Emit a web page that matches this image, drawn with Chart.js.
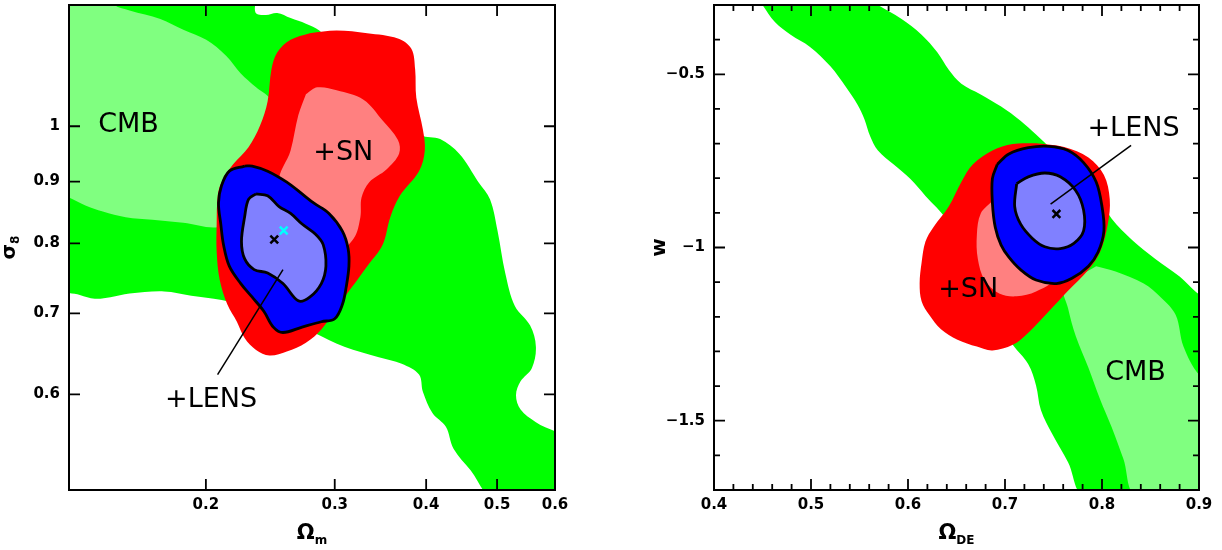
<!DOCTYPE html>
<html>
<head>
<meta charset="utf-8">
<script src="https://cdn.jsdelivr.net/npm/chart.js@4"></script>
<style>
  html, body { margin: 0; padding: 0; background: #fff; overflow: hidden; }
  #wrap { position: relative; width: 1222px; height: 550px; overflow: hidden; }
  #left { position: absolute; left: 0; top: -3px; }
  #right { position: absolute; left: 600px; top: -3px; }
</style>
</head>
<body>
<div id="wrap">
  <canvas id="left" width="600" height="553"></canvas>
  <canvas id="right" width="622" height="553"></canvas>
</div>
<script>
// ---- left panel: Omega_m vs sigma_8 (log axes) ----
const xTicksL = [0.2, 0.3, 0.4, 0.5, 0.6];
const xLabelsL = ['0.2', '0.3', '0.4', '0.5', '0.6'];
const yTicksL = [0.6, 0.7, 0.8, 0.9, 1];
const yLabelsL = ['0.6', '0.7', '0.8', '0.9', '1'];

// contours as [Omega_m, sigma_8]
const cmb95L = [[0.125,1.30],[0.2328,1.30],[0.2337,1.243],[0.2414,1.236],[0.2503,1.241],[0.2611,1.229],[0.274,1.216],[0.2858,1.200],[0.3092,1.144],[0.3488,1.056],[0.3935,0.984],[0.418,0.976],[0.4439,0.949],[0.4716,0.899],[0.489,0.870],[0.5008,0.819],[0.513,0.756],[0.5288,0.710],[0.5549,0.684],[0.565,0.657],[0.558,0.631],[0.5384,0.615],[0.5307,0.599],[0.5384,0.583],[0.565,0.569],[0.62,0.549],[0.62,0.49],[0.497,0.49],[0.4603,0.519],[0.436,0.541],[0.4256,0.564],[0.408,0.579],[0.3959,0.603],[0.3911,0.623],[0.3704,0.636],[0.3446,0.644],[0.3092,0.657],[0.2807,0.675],[0.2429,0.703],[0.2101,0.718],[0.191,0.724],[0.1754,0.730],[0.1573,0.727],[0.1481,0.722],[0.141,0.720],[0.1345,0.725],[0.125,0.738]];
const cmb68L = [[0.125,1.30],[0.142,1.30],[0.1499,1.26],[0.1573,1.247],[0.1733,1.227],[0.1863,1.202],[0.2002,1.179],[0.2131,1.144],[0.2232,1.106],[0.2342,1.077],[0.2458,1.049],[0.2488,0.974],[0.2371,0.911],[0.2153,0.841],[0.2076,0.825],[0.1863,0.832],[0.169,0.837],[0.1554,0.841],[0.1446,0.850],[0.1369,0.860],[0.13,0.873],[0.125,0.88]];
const sn95L = [[0.2773,1.194],[0.3018,1.200],[0.3323,1.194],[0.366,1.182],[0.3818,1.159],[0.3864,1.114],[0.3878,1.056],[0.3959,0.994],[0.3983,0.955],[0.3911,0.918],[0.3682,0.876],[0.3573,0.841],[0.3488,0.798],[0.3323,0.766],[0.3167,0.736],[0.3018,0.707],[0.2876,0.679],[0.274,0.662],[0.258,0.651],[0.2443,0.646],[0.2342,0.653],[0.2259,0.668],[0.2205,0.689],[0.214,0.712],[0.2089,0.746],[0.2069,0.787],[0.2069,0.830],[0.2076,0.876],[0.2101,0.899],[0.2179,0.930],[0.2287,0.961],[0.2371,1.001],[0.2429,1.049],[0.2458,1.114],[0.2503,1.151],[0.2611,1.179]];
const sn68L = [[0.274,1.063],[0.2841,1.077],[0.3018,1.071],[0.3284,1.052],[0.3488,1.011],[0.366,0.974],[0.3673,0.949],[0.353,0.921],[0.3344,0.899],[0.3264,0.873],[0.3252,0.841],[0.3186,0.808],[0.3018,0.787],[0.2675,0.798],[0.2518,0.899],[0.2611,0.955],[0.2675,1.021]];
const lens95L = [[0.2259,0.927],[0.2153,0.918],[0.2101,0.893],[0.2081,0.864],[0.2096,0.830],[0.2114,0.798],[0.2153,0.766],[0.2232,0.741],[0.2314,0.722],[0.24,0.703],[0.2473,0.682],[0.2549,0.675],[0.2707,0.682],[0.2876,0.689],[0.30,0.693],[0.3073,0.712],[0.311,0.736],[0.3137,0.766],[0.3129,0.792],[0.3073,0.819],[0.2946,0.847],[0.2807,0.864],[0.2707,0.879],[0.258,0.899],[0.2429,0.918],[0.2314,0.927]];
const lens68L = [[0.2342,0.879],[0.2287,0.870],[0.2259,0.841],[0.2237,0.803],[0.2259,0.777],[0.2328,0.761],[0.2429,0.756],[0.2549,0.741],[0.2675,0.717],[0.2773,0.722],[0.2876,0.741],[0.2918,0.766],[0.2893,0.798],[0.2824,0.814],[0.2707,0.830],[0.2611,0.847],[0.2518,0.858],[0.2429,0.876]];
const bestL = [0.248, 0.806];
const simL = [0.2555, 0.820];
const pointerL = [[0.2075, 0.623], [0.2549, 0.761]];
const textsL = ['CMB', '+SN', '+LENS'];
const textXL = [0.1568, 0.3082, 0.2033];
const textYL = [1.002, 0.950, 0.5935];

// ---- right panel: Omega_DE vs w ----
const xTicksR = [0.4, 0.5, 0.6, 0.7, 0.8, 0.9];
const xLabelsR = ['0.4', '0.5', '0.6', '0.7', '0.8', '0.9'];
const yTicksR = [-1.5, -1, -0.5];
const yLabelsR = ['\u22121.5', '\u22121', '\u22120.5'];

const cmb95R = [[0.445,-0.28],[0.557,-0.28],[0.569,-0.300],[0.593,-0.340],[0.614,-0.386],[0.630,-0.436],[0.642,-0.487],[0.655,-0.527],[0.675,-0.558],[0.696,-0.593],[0.716,-0.634],[0.732,-0.674],[0.749,-0.720],[0.773,-0.791],[0.798,-0.861],[0.810,-0.917],[0.831,-0.978],[0.855,-1.033],[0.880,-1.084],[0.900,-1.135],[0.92,-1.16],[0.92,-1.72],[0.783,-1.72],[0.765,-1.620],[0.749,-1.540],[0.737,-1.469],[0.732,-1.398],[0.724,-1.337],[0.708,-1.281],[0.690,-1.200],[0.665,-1.050],[0.640,-0.920],[0.618,-0.851],[0.602,-0.801],[0.585,-0.760],[0.569,-0.720],[0.561,-0.679],[0.555,-0.629],[0.548,-0.588],[0.536,-0.537],[0.520,-0.477],[0.499,-0.421],[0.479,-0.386],[0.463,-0.350],[0.450,-0.300]];
const cmb68R = [[0.794,-1.054],[0.814,-1.069],[0.843,-1.104],[0.861,-1.145],[0.876,-1.195],[0.884,-1.286],[0.900,-1.367],[0.92,-1.40],[0.92,-1.72],[0.836,-1.72],[0.822,-1.610],[0.810,-1.519],[0.798,-1.438],[0.786,-1.347],[0.773,-1.256],[0.765,-1.175],[0.761,-1.114]];
const sn95R = [[0.732,-0.699],[0.761,-0.710],[0.786,-0.740],[0.802,-0.791],[0.808,-0.861],[0.806,-0.932],[0.798,-1.013],[0.786,-1.064],[0.765,-1.125],[0.745,-1.185],[0.724,-1.246],[0.708,-1.281],[0.687,-1.297],[0.671,-1.286],[0.651,-1.266],[0.634,-1.236],[0.622,-1.195],[0.614,-1.155],[0.612,-1.104],[0.614,-1.044],[0.618,-0.983],[0.626,-0.942],[0.642,-0.882],[0.655,-0.811],[0.667,-0.760],[0.687,-0.720],[0.708,-0.701]];
const sn68R = [[0.687,-0.866],[0.675,-0.902],[0.671,-0.963],[0.672,-1.033],[0.679,-1.094],[0.694,-1.133],[0.712,-1.141],[0.732,-1.127],[0.749,-1.094],[0.732,-1.054],[0.692,-0.912]];
const lens95R = [[0.692,-0.760],[0.704,-0.730],[0.724,-0.712],[0.745,-0.708],[0.765,-0.720],[0.781,-0.755],[0.794,-0.811],[0.800,-0.882],[0.802,-0.952],[0.796,-1.013],[0.786,-1.054],[0.769,-1.089],[0.753,-1.104],[0.732,-1.094],[0.716,-1.064],[0.704,-1.028],[0.696,-0.993],[0.690,-0.942],[0.687,-0.871],[0.687,-0.801]];
const lens68R = [[0.712,-0.816],[0.724,-0.796],[0.741,-0.785],[0.757,-0.796],[0.773,-0.836],[0.781,-0.892],[0.781,-0.952],[0.771,-0.988],[0.757,-1.003],[0.741,-0.998],[0.728,-0.973],[0.716,-0.932],[0.710,-0.882]];
const bestR = [0.753, -0.903];
const pointerR = [[0.747, -0.875], [0.830, -0.705]];
const textsR = ['+LENS', '+SN', 'CMB'];
const textXR = [0.8325, 0.662, 0.8346];
const textYR = [-0.657, -1.1225, -1.361];

const GREEN = '#00ff00', LGREEN = '#80ff80';
const RED = '#ff0000', LRED = '#ff8080';
const BLUE = '#0000ff', LBLUE = '#8080ff';
const FONT = '"DejaVu Sans", sans-serif';

function toXY(pts, close) {
  const out = pts.map(p => ({x: p[0], y: p[1]}));
  if (close) out.push({x: pts[0][0], y: pts[0][1]});
  return out;
}

function contour(pts, color, order, outline) {
  return {
    data: toXY(pts, true),
    fillColor: color,
    borderColor: '#000',
    borderWidth: outline ? 2.8 : 0,
    pointRadius: 0,
    tension: 0.35,
    fill: false,
    order: order
  };
}

function marker(p, color) {
  return {
    data: toXY([p]),
    showLine: false,
    pointStyle: 'crossRot',
    pointRadius: 5.5,
    pointBorderWidth: 2.5,
    pointBorderColor: color,
    pointBackgroundColor: color,
    order: 0
  };
}

function pointer(pts) {
  return {
    data: toXY(pts),
    borderColor: '#000',
    borderWidth: 1.5,
    pointRadius: 0,
    tension: 0,
    fill: false,
    order: 1
  };
}

// fills each contour with its own path, built from the line element
const contourFill = {
  id: 'contourFill',
  beforeDatasetDraw(chart, args) {
    const ds = chart.data.datasets[args.index];
    const line = args.meta.dataset;
    if (!ds.fillColor || !line) return;
    const a = chart.chartArea;
    const ctx = chart.ctx;
    if (typeof line.updateControlPoints === 'function') line.updateControlPoints(a, 'x');
    ctx.save();
    ctx.beginPath();
    ctx.rect(a.left, a.top, a.right - a.left, a.bottom - a.top);
    ctx.clip();
    ctx.beginPath();
    line.path(ctx);
    ctx.closePath();
    ctx.fillStyle = ds.fillColor;
    ctx.fill();
    ctx.restore();
  }
};

function minorTicks(min, max, step) {
  const out = [];
  for (let v = Math.ceil(min / step - 1e-9) * step; v <= max + 1e-9; v += step) out.push(+v.toFixed(4));
  return out;
}

function framePlugin(cfg) {
  return {
    id: 'frame',
    afterDatasetsDraw(chart) {
      const ctx = chart.ctx;
      const a = chart.chartArea;
      const xs = chart.scales.x, ys = chart.scales.y;
      ctx.save();
      ctx.strokeStyle = '#000';
      ctx.lineWidth = 1.8;
      ctx.beginPath();
      const tick = (vals, len) => {
        vals.forEach(v => {
          const px = xs.getPixelForValue(v);
          ctx.moveTo(px, a.bottom); ctx.lineTo(px, a.bottom - len);
          ctx.moveTo(px, a.top); ctx.lineTo(px, a.top + len);
        });
      };
      const ytick = (vals, len) => {
        vals.forEach(v => {
          const py = ys.getPixelForValue(v);
          ctx.moveTo(a.left, py); ctx.lineTo(a.left + len, py);
          ctx.moveTo(a.right, py); ctx.lineTo(a.right - len, py);
        });
      };
      tick(cfg.xTicks, 11);
      ytick(cfg.yTicks, 11);
      if (cfg.xMinor) tick(cfg.xMinor, 6);
      if (cfg.yMinor) ytick(cfg.yMinor, 6);
      ctx.stroke();
      ctx.lineWidth = 2;
      ctx.strokeRect(a.left, a.top, a.right - a.left, a.bottom - a.top);

      // region labels
      ctx.fillStyle = '#000';
      ctx.font = '27px ' + FONT;
      ctx.textAlign = 'center';
      ctx.textBaseline = 'middle';
      cfg.texts.forEach((t, i) => {
        ctx.fillText(t, xs.getPixelForValue(cfg.textX[i]), ys.getPixelForValue(cfg.textY[i]));
      });

      // x axis title with subscript
      ctx.textAlign = 'left';
      ctx.textBaseline = 'alphabetic';
      const big = 'bold 21px ' + FONT, small = 'bold 12px ' + FONT;
      ctx.font = big;
      const w1 = ctx.measureText(cfg.xTitle[0]).width;
      ctx.font = small;
      const w2 = ctx.measureText(cfg.xTitle[1]).width;
      const x0 = (a.left + a.right) / 2 - (w1 + w2) / 2;
      const yb = a.bottom + 49;
      ctx.font = big; ctx.fillText(cfg.xTitle[0], x0, yb);
      ctx.font = small; ctx.fillText(cfg.xTitle[1], x0 + w1, yb + 5);

      // y axis title, rotated
      ctx.font = 'bold ' + cfg.yTitleSize + 'px ' + FONT;
      const v1 = ctx.measureText(cfg.yTitle[0]).width;
      ctx.font = small;
      const v2 = cfg.yTitle[1] ? ctx.measureText(cfg.yTitle[1]).width : 0;
      ctx.translate(cfg.yTitleX, (a.top + a.bottom) / 2);
      ctx.rotate(-Math.PI / 2);
      const s0 = -(v1 + v2) / 2;
      ctx.font = 'bold ' + cfg.yTitleSize + 'px ' + FONT;
      ctx.fillText(cfg.yTitle[0], s0, 0);
      if (cfg.yTitle[1]) { ctx.font = small; ctx.fillText(cfg.yTitle[1], s0 + v1, 4); }
      ctx.restore();
    }
  };
}

function axis(type, min, max, vals, labels, isX, size) {
  return {
    type: type,
    min: min,
    max: max,
    bounds: 'data',
    position: isX ? 'bottom' : 'left',
    grid: {display: false, drawTicks: false, tickLength: 0},
    border: {display: false},
    ticks: {
      autoSkip: false,
      maxRotation: 0,
      padding: isX ? 6 : 9,
      color: '#000',
      font: {family: 'DejaVu Sans', size: 15, weight: 'bold'},
      callback: (v, i) => labels[i]
    },
    afterBuildTicks: s => { s.ticks = vals.map(v => ({value: v})); },
    afterFit: s => {
      if (isX) s.height = size; else s.width = size;
      s.paddingTop = 0; s.paddingBottom = 0; s.paddingLeft = 0; s.paddingRight = 0;
    }
  };
}

function makePanel(id, cfg) {
  return new Chart(document.getElementById(id), {
    type: 'line',
    data: {datasets: cfg.datasets},
    options: {
      responsive: false,
      animation: false,
      devicePixelRatio: 1,
      events: [],
      layout: {padding: cfg.padding},
      plugins: {legend: {display: false}, tooltip: {enabled: false}},
      scales: {x: cfg.x, y: cfg.y}
    },
    plugins: [contourFill, framePlugin(cfg)]
  });
}

makePanel('left', {
  datasets: [
    contour(cmb95L, GREEN, 9),
    contour(cmb68L, LGREEN, 8),
    contour(sn95L, RED, 7),
    contour(sn68L, LRED, 6),
    contour(lens95L, BLUE, 5, true),
    contour(lens68L, LBLUE, 4, true),
    pointer(pointerL),
    marker(bestL, '#000'),
    marker(simL, '#00ffff')
  ],
  padding: {left: 0, top: 2, right: 45, bottom: 0},
  x: axis('logarithmic', 0.13, 0.6, xTicksL, xLabelsL, true, 60),
  y: axis('logarithmic', 0.5, 1.26, yTicksL, yLabelsL, false, 69),
  xTicks: xTicksL, yTicks: yTicksL,
  texts: textsL, textX: textXL, textY: textYL,
  xTitle: ['\u03A9', 'm'], yTitle: ['\u03C3', '8'], yTitleX: 15, yTitleSize: 20
});

makePanel('right', {
  datasets: [
    contour(cmb95R, GREEN, 9),
    contour(cmb68R, LGREEN, 8),
    contour(sn95R, RED, 7),
    contour(sn68R, LRED, 6),
    contour(lens95R, BLUE, 5, true),
    contour(lens68R, LBLUE, 4, true),
    pointer(pointerR),
    marker(bestR, '#000')
  ],
  padding: {left: 0, top: 2, right: 23, bottom: 0},
  x: axis('linear', 0.4, 0.9, xTicksR, xLabelsR, true, 60),
  y: axis('linear', -1.7, -0.3, yTicksR, yLabelsR, false, 114),
  xTicks: xTicksR, yTicks: yTicksR,
  xMinor: minorTicks(0.4, 0.9, 0.02), yMinor: minorTicks(-1.7, -0.3, 0.1),
  texts: textsR, textX: textXR, textY: textYR,
  xTitle: ['\u03A9', 'DE'], yTitle: ['w', ''], yTitleX: 65, yTitleSize: 20
});
</script>
</body>
</html>
